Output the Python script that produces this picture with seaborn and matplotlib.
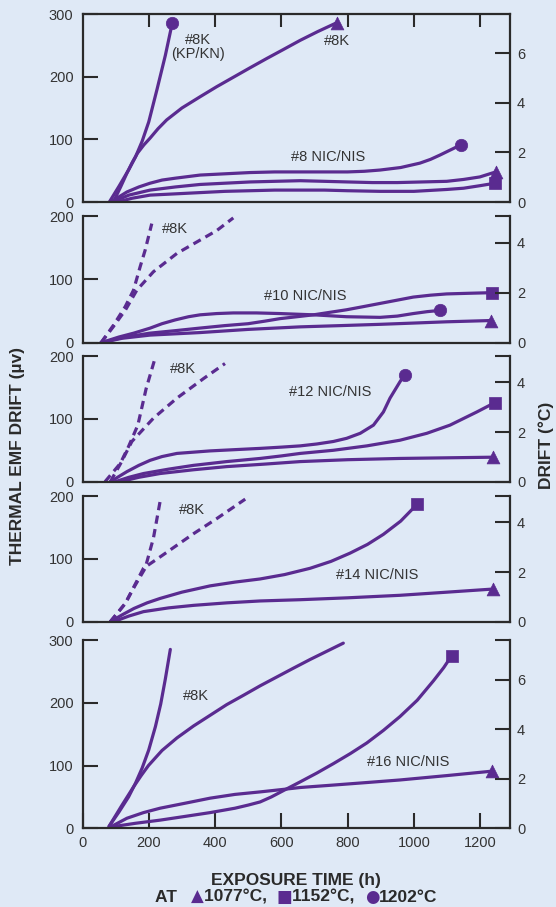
import matplotlib
matplotlib.use("Agg")
import pandas as pd
import matplotlib.pyplot as plt
import seaborn as sns
from matplotlib.offsetbox import TextArea, HPacker, AnchoredOffsetbox

# ---- data (hours, microvolts) ----
# panel 1: #8 gauge
p1_k_1202_h = [81, 110, 140, 160, 180, 200, 225, 250, 271]
p1_k_1202_uv = [0, 25, 52, 72, 97, 128, 180, 234, 286]
p1_k_1077_h = [93, 115, 134, 150, 166, 185, 204, 228, 254, 300, 355, 405, 455, 505, 556, 605, 657, 710, 767]
p1_k_1077_uv = [0, 24, 46, 63, 78, 91, 102, 117, 131, 150, 168, 184, 199, 214, 229, 243, 258, 272, 286]
p1_n_1202_h = [85, 134, 170, 204, 240, 280, 355, 430, 506, 580, 657, 730, 800, 850, 898, 960, 1018, 1050, 1079, 1110, 1141]
p1_n_1202_uv = [0, 16, 24, 30, 35, 38, 43, 45, 47, 48, 48, 48, 48, 49, 51, 55, 62, 68, 75, 83, 91]
p1_n_1077_h = [90, 140, 204, 280, 355, 430, 506, 580, 657, 730, 800, 875, 950, 1025, 1099, 1150, 1199, 1247]
p1_n_1077_uv = [0, 11, 19, 24, 28, 30, 32, 33, 34, 33, 32, 31, 31, 32, 33, 36, 40, 48]
p1_n_1152_h = [105, 150, 204, 280, 355, 430, 506, 580, 657, 730, 800, 898, 1000, 1099, 1150, 1199, 1245]
p1_n_1152_uv = [0, 6, 11, 13, 15, 17, 18, 19, 19, 19, 18, 17, 17, 20, 22, 26, 30]

# panel 2: #10 gauge
p2_k_a_h = [56, 94, 129, 154, 174, 189, 209]
p2_k_a_uv = [0, 28, 57, 83, 120, 146, 188]
p2_k_b_h = [56, 94, 130, 164, 214, 285, 355, 405, 455]
p2_k_b_uv = [0, 26, 52, 83, 112, 141, 162, 177, 197]
p2_n_1202_h = [56, 110, 154, 204, 240, 280, 320, 355, 405, 455, 525, 596, 697, 797, 898, 950, 998, 1040, 1079]
p2_n_1202_uv = [0, 9, 15, 23, 30, 36, 41, 44, 46, 47, 47, 46, 44, 41, 40, 42, 46, 49, 51]
p2_n_1152_h = [56, 120, 202, 280, 353, 430, 500, 550, 596, 647, 697, 747, 797, 848, 898, 948, 998, 1050, 1099, 1165, 1236]
p2_n_1152_uv = [0, 8, 15, 19, 23, 27, 30, 34, 38, 41, 44, 48, 52, 57, 62, 67, 72, 75, 77, 78, 79]
p2_n_1077_h = [56, 120, 204, 280, 355, 500, 657, 780, 898, 1000, 1099, 1233]
p2_n_1077_uv = [0, 7, 12, 14, 16, 21, 25, 27, 29, 31, 33, 35]

# panel 3: #12 gauge
p3_k_a_h = [68, 114, 139, 167, 192, 217]
p3_k_a_uv = [0, 29, 56, 90, 148, 193]
p3_k_b_h = [84, 114, 149, 214, 285, 365, 430]
p3_k_b_uv = [0, 28, 64, 101, 133, 164, 188]
p3_n_1202_h = [84, 134, 170, 204, 240, 285, 335, 385, 460, 536, 600, 657, 707, 757, 797, 838, 878, 908, 928, 958, 972]
p3_n_1202_uv = [0, 16, 26, 34, 40, 45, 47, 49, 51, 53, 55, 57, 60, 64, 69, 77, 90, 111, 133, 159, 170]
p3_n_1152_h = [99, 140, 184, 260, 335, 435, 536, 600, 657, 757, 858, 958, 1039, 1109, 1190, 1245]
p3_n_1152_uv = [0, 7, 13, 20, 26, 32, 37, 41, 45, 50, 57, 66, 77, 90, 111, 126]
p3_n_1077_h = [114, 170, 234, 335, 435, 550, 657, 800, 958, 1100, 1240]
p3_n_1077_uv = [0, 7, 13, 19, 24, 28, 32, 35, 37, 38, 39]

# panel 4: #14 gauge
p4_k_a_h = [84, 129, 159, 189, 214, 234]
p4_k_a_uv = [0, 29, 58, 85, 133, 191]
p4_k_b_h = [84, 129, 184, 234, 335, 405, 491]
p4_k_b_uv = [0, 29, 85, 103, 140, 164, 195]
p4_n_1152_h = [84, 120, 155, 195, 234, 300, 385, 460, 536, 610, 687, 750, 807, 860, 908, 960, 1010]
p4_n_1152_uv = [0, 11, 21, 30, 37, 47, 57, 63, 68, 75, 85, 96, 109, 123, 139, 160, 187]
p4_n_1077_h = [94, 140, 184, 260, 335, 436, 536, 657, 800, 958, 1100, 1240]
p4_n_1077_uv = [0, 9, 16, 22, 26, 30, 33, 35, 38, 42, 47, 52]

# panel 5: #16 gauge
p5_k_a_h = [80, 110, 139, 160, 180, 200, 220, 236, 250, 265]
p5_k_a_uv = [3, 26, 50, 72, 96, 125, 162, 198, 238, 285]
p5_k_b_h = [80, 117, 154, 177, 199, 240, 285, 335, 385, 435, 486, 536, 586, 636, 687, 737, 787]
p5_k_b_uv = [3, 35, 66, 84, 100, 124, 144, 163, 180, 197, 212, 227, 241, 255, 269, 282, 295]
p5_n_1152_h = [84, 160, 234, 310, 385, 460, 500, 536, 570, 606, 657, 707, 757, 808, 858, 908, 958, 1010, 1059, 1090, 1114]
p5_n_1152_uv = [2, 8, 13, 19, 25, 32, 37, 42, 50, 60, 74, 88, 103, 119, 136, 156, 178, 204, 235, 256, 275]
p5_n_1077_h = [84, 134, 184, 234, 310, 385, 460, 536, 606, 657, 760, 860, 958, 1100, 1235]
p5_n_1077_uv = [2, 16, 25, 32, 40, 48, 54, 58, 62, 65, 69, 73, 77, 84, 91]

uv_ticks_300 = [0, 100, 200, 300]
uv_ticks_200 = [0, 100, 200]
hour_ticks = [0, 200, 400, 600, 800, 1000, 1200]
UV_PER_DEG_C = 39.5

PURPLE = "#5a2b90"
BG = "#dfe9f6"
INK = "#2a2a2a"

sns.set_theme(style="white")
plt.rcParams["font.family"] = ["Liberation Sans", "DejaVu Sans"]


def draw_curve(ax, hours, uv, dashed=False, end_marker=None, msize=75):
    """draws one drift curve, with an optional filled marker at its end"""
    ls = (0, (2.6, 1.7)) if dashed else "-"
    sns.lineplot(x=hours, y=uv, ax=ax, color=PURPLE, lw=2.3, linestyle=ls,
                 sort=False, estimator=None, solid_capstyle="round",
                 solid_joinstyle="round", dash_capstyle="butt")
    if end_marker:
        sns.scatterplot(x=[hours[-1]], y=[uv[-1]], ax=ax, marker=end_marker,
                        s=msize, color=PURPLE, edgecolor=PURPLE, linewidth=0.5,
                        zorder=5)


def style_panel(fig, rect, uv_max, uv_ticks, deg_ticks, top_box=False, show_x=False):
    """sets up one panel with the left uv axis and right degC twin axis"""
    ax = fig.add_axes(rect)
    ax.set_facecolor(BG)
    ax.set_xlim(0, 1290)
    ax.set_ylim(0, uv_max)
    ax.set_yticks(uv_ticks)
    ax.tick_params(axis="y", direction="in", length=10.5, width=1.5, pad=6.5,
                   labelsize=10.5, labelcolor="#333333", color=INK, left=True)
    for side in ["left", "bottom", "top", "right"]:
        ax.spines[side].set_color(INK)
        ax.spines[side].set_linewidth(1.6)
    ax.spines["right"].set_visible(False)
    ax.spines["top"].set_visible(top_box)

    ax.set_xticks(hour_ticks[1:] if not show_x else hour_ticks)
    if show_x:
        ax.tick_params(axis="x", direction="in", length=10.5, width=1.5, pad=5.5,
                       labelsize=10.5, labelcolor="#333333", color=INK, bottom=True)
    elif top_box:
        ax.tick_params(axis="x", direction="in", length=9, width=1.5, color=INK,
                       bottom=False, top=True, labelbottom=False)
    else:
        ax.tick_params(axis="x", bottom=False, labelbottom=False)
    ax.set_xlabel("")
    ax.set_ylabel("")

    ax2 = ax.twinx()
    ax2.set_ylim(0, uv_max / UV_PER_DEG_C)
    ax2.set_yticks(deg_ticks)
    ax2.set_yticklabels([f"{t:g}" if t in (0, 2, 4, 6) else "" for t in deg_ticks])
    ax2.tick_params(axis="y", direction="in", length=10.5, width=1.5, pad=5,
                    labelsize=10.5, labelcolor="#333333", color=INK, right=True)
    for side in ["left", "bottom", "top"]:
        ax2.spines[side].set_visible(False)
    ax2.spines["right"].set_color(INK)
    ax2.spines["right"].set_linewidth(1.6)
    ax2.grid(False)
    ax.grid(False)
    return ax


def label(ax, x, y, text):
    ax.text(x, y, text, ha="center", va="center", fontsize=10.5, color="#333333",
            linespacing=1.05)


fig = plt.figure(figsize=(5.56, 9.07), dpi=100, facecolor=BG)

# panel extents in pixels (top, bottom) of the 556x907 canvas
left_px, right_px = 82.5, 510
panel_px = [(14, 202), (216, 342.7), (356, 481.7), (496, 621.7), (640, 828.3)]
rects = [[left_px / 556, 1 - b / 907, (right_px - left_px) / 556, (b - t) / 907]
         for t, b in panel_px]

top_300 = 300 / UV_PER_DEG_C
top_200 = 200 / UV_PER_DEG_C

ax1 = style_panel(fig, rects[0], 300, uv_ticks_300, [0, 2, 4, 6], top_box=True)
draw_curve(ax1, p1_k_1202_h, p1_k_1202_uv, end_marker="o", msize=80)
draw_curve(ax1, p1_k_1077_h, p1_k_1077_uv, end_marker="^", msize=85)
draw_curve(ax1, p1_n_1202_h, p1_n_1202_uv, end_marker="o", msize=80)
draw_curve(ax1, p1_n_1077_h, p1_n_1077_uv, end_marker="^", msize=85)
draw_curve(ax1, p1_n_1152_h, p1_n_1152_uv, end_marker="s", msize=75)
label(ax1, 348, 247, "#8K\n(KP/KN)")
label(ax1, 767, 257, "#8K")
label(ax1, 740, 72, "#8 NIC/NIS")

ax2 = style_panel(fig, rects[1], 200, uv_ticks_200, [0, 2, 4, top_200])
draw_curve(ax2, p2_k_a_h, p2_k_a_uv, dashed=True)
draw_curve(ax2, p2_k_b_h, p2_k_b_uv, dashed=True)
draw_curve(ax2, p2_n_1202_h, p2_n_1202_uv, end_marker="o", msize=80)
draw_curve(ax2, p2_n_1152_h, p2_n_1152_uv, end_marker="s", msize=75)
draw_curve(ax2, p2_n_1077_h, p2_n_1077_uv, end_marker="^", msize=85)
label(ax2, 280, 180, "#8K")
label(ax2, 672, 73, "#10 NIC/NIS")

ax3 = style_panel(fig, rects[2], 200, uv_ticks_200, [0, 2, 4, top_200])
draw_curve(ax3, p3_k_a_h, p3_k_a_uv, dashed=True)
draw_curve(ax3, p3_k_b_h, p3_k_b_uv, dashed=True)
draw_curve(ax3, p3_n_1202_h, p3_n_1202_uv, end_marker="o", msize=80)
draw_curve(ax3, p3_n_1152_h, p3_n_1152_uv, end_marker="s", msize=75)
draw_curve(ax3, p3_n_1077_h, p3_n_1077_uv, end_marker="^", msize=85)
label(ax3, 303, 180, "#8K")
label(ax3, 746, 143, "#12 NIC/NIS")

ax4 = style_panel(fig, rects[3], 200, uv_ticks_200, [0, 2, 4, top_200])
draw_curve(ax4, p4_k_a_h, p4_k_a_uv, dashed=True)
draw_curve(ax4, p4_k_b_h, p4_k_b_uv, dashed=True)
draw_curve(ax4, p4_n_1152_h, p4_n_1152_uv, end_marker="s", msize=75)
draw_curve(ax4, p4_n_1077_h, p4_n_1077_uv, end_marker="^", msize=85)
label(ax4, 331, 178, "#8K")
label(ax4, 888, 74, "#14 NIC/NIS")

ax5 = style_panel(fig, rects[4], 300, uv_ticks_300, [0, 2, 4, 6, top_300], show_x=True)
draw_curve(ax5, p5_k_a_h, p5_k_a_uv)
draw_curve(ax5, p5_k_b_h, p5_k_b_uv)
draw_curve(ax5, p5_n_1152_h, p5_n_1152_uv, end_marker="s", msize=75)
draw_curve(ax5, p5_n_1077_h, p5_n_1077_uv, end_marker="^", msize=85)
label(ax5, 342, 211, "#8K")
label(ax5, 982, 105, "#16 NIC/NIS")

# axis titles
fig.text(18 / 556, 1 - 456 / 907, "THERMAL EMF DRIFT (µv)", rotation=90,
         ha="center", va="center", fontsize=12.5, fontweight="bold", color=INK)
fig.text(546.5 / 556, 1 - 445 / 907, "DRIFT (°C)", rotation=90,
         ha="center", va="center", fontsize=12.5, fontweight="bold", color=INK)
fig.text(296 / 556, 1 - 880 / 907, "EXPOSURE TIME (h)", ha="center", va="center",
         fontsize=12.5, fontweight="bold", color=INK)

# temperature key line with purple symbols
bold_ink = dict(color=INK, fontsize=12.5, fontweight="bold")
bold_sym = dict(color=PURPLE, fontsize=12, family=["DejaVu Sans"])
key_parts = [("AT   ", bold_ink), ("▲", bold_sym), ("1077°C,  ", bold_ink),
             ("■", bold_sym), ("1152°C,  ", bold_ink), ("●", bold_sym),
             ("1202°C", bold_ink)]
packer = HPacker(children=[TextArea(t, textprops=p) for t, p in key_parts],
                 align="baseline", pad=0, sep=0)
fig.add_artist(AnchoredOffsetbox(loc="center", child=packer, pad=0, borderpad=0,
                                 frameon=False, bbox_to_anchor=(296 / 556, 1 - 897 / 907),
                                 bbox_transform=fig.transFigure))

fig.savefig("out.png", dpi=100, facecolor=BG)
